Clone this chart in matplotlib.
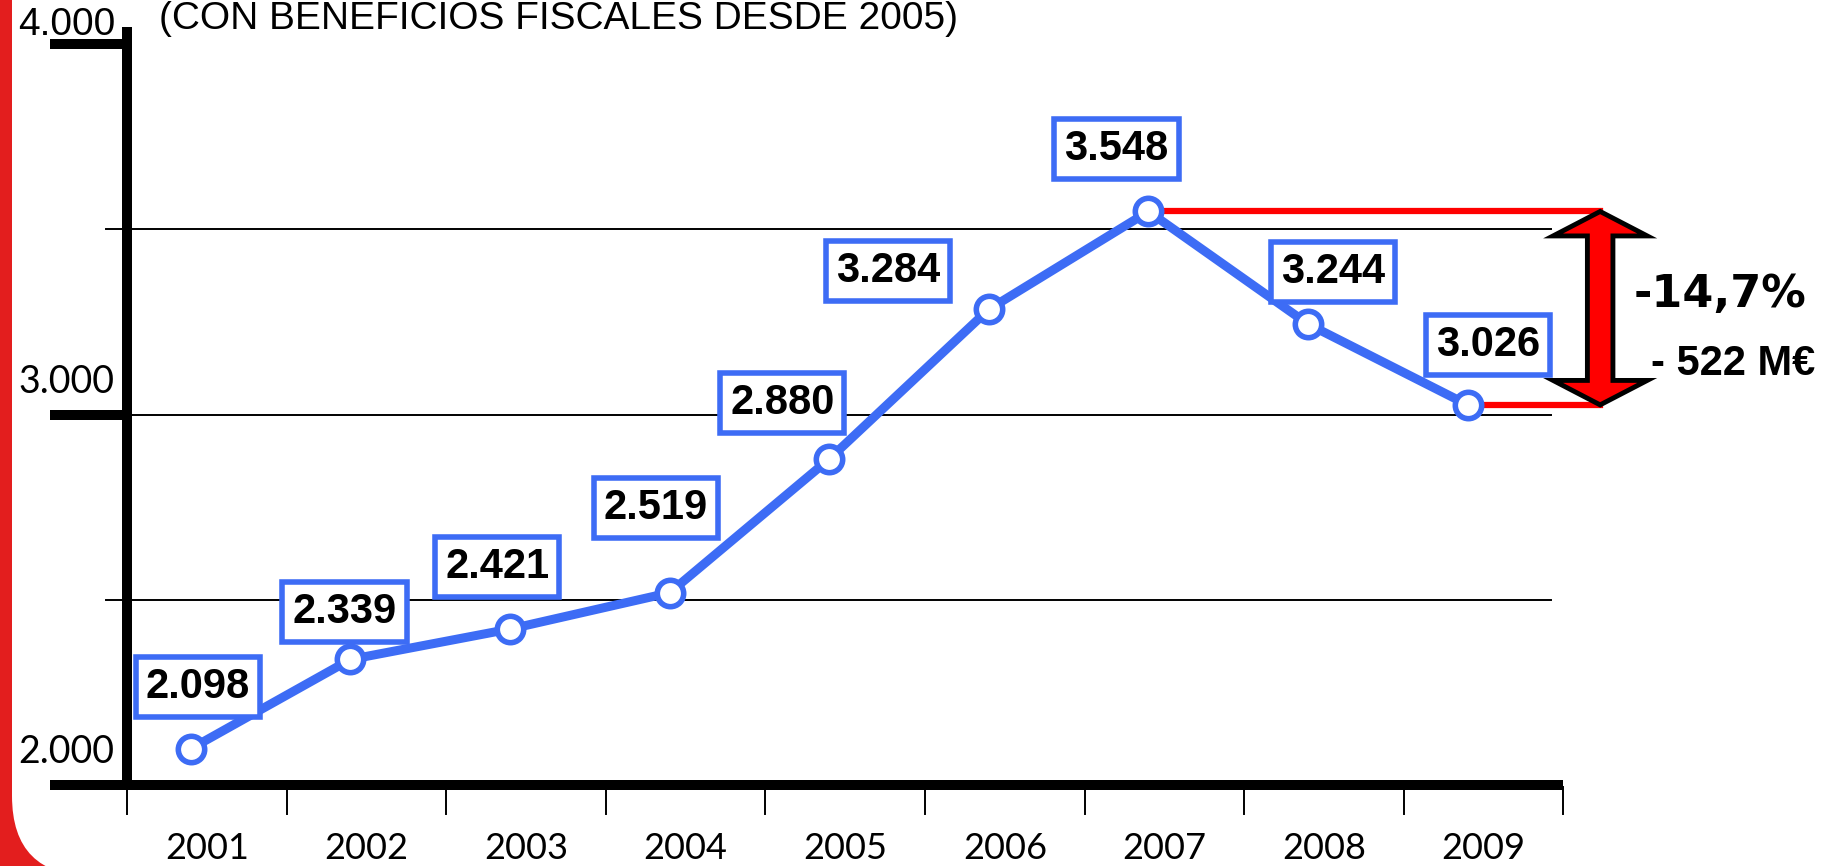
import matplotlib
matplotlib.use("Agg")
import matplotlib.pyplot as plt
from matplotlib.patches import Rectangle, FancyBboxPatch, Polygon
from matplotlib.transforms import IdentityTransform

years = ["2001", "2002", "2003", "2004", "2005", "2006", "2007", "2008", "2009"]
values = [2098, 2339, 2421, 2519, 2880, 3284, 3548, 3244, 3026]
major_ticks = [2000, 3000, 4000]
minor_ticks = [2500, 3500]
title = "(CON BENEFICIOS FISCALES DESDE 2005)"

BLUE = "#3d6cf5"
RED = "#ff0000"
CALIBRI = ["Lato", "DejaVu Sans"]
ARIAL = ["Liberation Sans", "DejaVu Sans"]

# offsets (pixels) of the value boxes from their points
label_offsets = [(7, 62), (-6, 47), (-13, 62), (-14, 85), (-47, 56),
                 (-101, 38), (-32, 62), (25, 52), (20, 60)]


def fmt(v):
    return f"{v:,}".replace(",", ".")


fig = plt.figure(figsize=(18.41, 8.66), dpi=100)
fig.patch.set_facecolor("white")

# red slide border with rounded white panel
fig.patches.append(Rectangle((0, 0), 120, 866, transform=IdentityTransform(),
                             facecolor="#e31e1e", edgecolor="none", zorder=-3))
fig.patches.append(FancyBboxPatch((12, -10), 2000, 1100, transform=IdentityTransform(),
                                  boxstyle="round,pad=0,rounding_size=80",
                                  facecolor="white", edgecolor="none", zorder=-2))

ax = fig.add_axes([0, 0, 1, 1])
ax.patch.set_visible(False)
ax.axis("off")
ax.set_xlim(-0.796, 10.739)
ax.set_ylim(1781.4, 4118.8)

n = len(years)
xs = [i + 0.4 for i in range(n)]

# grid lines
for g in minor_ticks + [3000]:
    ax.plot([0, 8.92], [g, g], color="black", lw=1.4, zorder=1)

# y axis ticks
for t in minor_ticks:
    ax.plot([-0.13, 0], [t, t], color="black", lw=1.4, zorder=2)
for t in major_ticks[1:]:
    ax.plot([-0.48, 0], [t, t], color="black", lw=7.2, zorder=3,
            solid_capstyle="butt")

# axes
ax.plot([0, 0], [2000, 4045], color="black", lw=7.2, zorder=3, solid_capstyle="butt")
ax.plot([-0.48, 9.0], [2000, 2000], color="black", lw=7.2, zorder=3,
        solid_capstyle="butt")
for k in range(n + 1):
    ax.plot([k, k], [1994, 1922], color="black", lw=1.4, zorder=2)

# y tick labels
for t in major_ticks:
    if t == 4000:
        ax.annotate(fmt(t), (-0.683, t), xytext=(0, 9), textcoords="offset pixels",
                    ha="left", va="baseline", fontsize=28, family=ARIAL)
    else:
        ax.annotate(fmt(t), (-0.683, t), xytext=(0, 22), textcoords="offset pixels",
                    ha="left", va="baseline", fontsize=27, family=CALIBRI)

# year labels
for i, y in enumerate(years):
    ax.annotate(y, (i + 0.5, 2000), xytext=(0, -74), textcoords="offset pixels",
                ha="center", va="baseline", fontsize=26, family=CALIBRI)

# drop annotation
peak = max(values)
last = values[-1]
arrow_x = 9.23
ax.plot([xs[values.index(peak)], arrow_x], [peak, peak], color=RED, lw=4.5, zorder=4)
ax.plot([xs[-1], arrow_x], [last, last], color=RED, lw=4.5, zorder=4)

hw, sw, hl = 0.295, 0.08, 66
arrow_pts = [(arrow_x, peak), (arrow_x + hw, peak - hl), (arrow_x + sw, peak - hl),
             (arrow_x + sw, last + hl), (arrow_x + hw, last + hl), (arrow_x, last),
             (arrow_x - hw, last + hl), (arrow_x - sw, last + hl),
             (arrow_x - sw, peak - hl), (arrow_x - hw, peak - hl)]
ax.add_patch(Polygon(arrow_pts, closed=True, facecolor=RED, edgecolor="black",
                     lw=3.5, joinstyle="miter", zorder=5))

mid = (peak + last) / 2
pct = (last - peak) / peak * 100
ax.text(9.98, mid + 37, f"{pct:.1f}%".replace(".", ","), ha="center", va="center",
        fontsize=32, fontweight="bold", family=["DejaVu Sans"])
ax.text(10.06, mid - 150, f"- {peak - last} M€", ha="center", va="center",
        fontsize=30, fontweight="bold", family=ARIAL)

# data line
ax.plot(xs, values, color=BLUE, lw=6.5, marker="o", ms=19, mfc="white",
        mec=BLUE, mew=4, zorder=6)

for x, v, off in zip(xs, values, label_offsets):
    ax.annotate(fmt(v), (x, v), xytext=off, textcoords="offset pixels",
                ha="center", va="center", fontsize=30, fontweight="bold",
                family=ARIAL, zorder=7,
                bbox=dict(boxstyle="square,pad=0.24", facecolor="white",
                          edgecolor=BLUE, lw=4))

fig.text(159 / 1841, 1 - 29 / 866, title, ha="left", va="baseline",
         fontsize=28, family=ARIAL)

fig.savefig("out.png", dpi=100)
